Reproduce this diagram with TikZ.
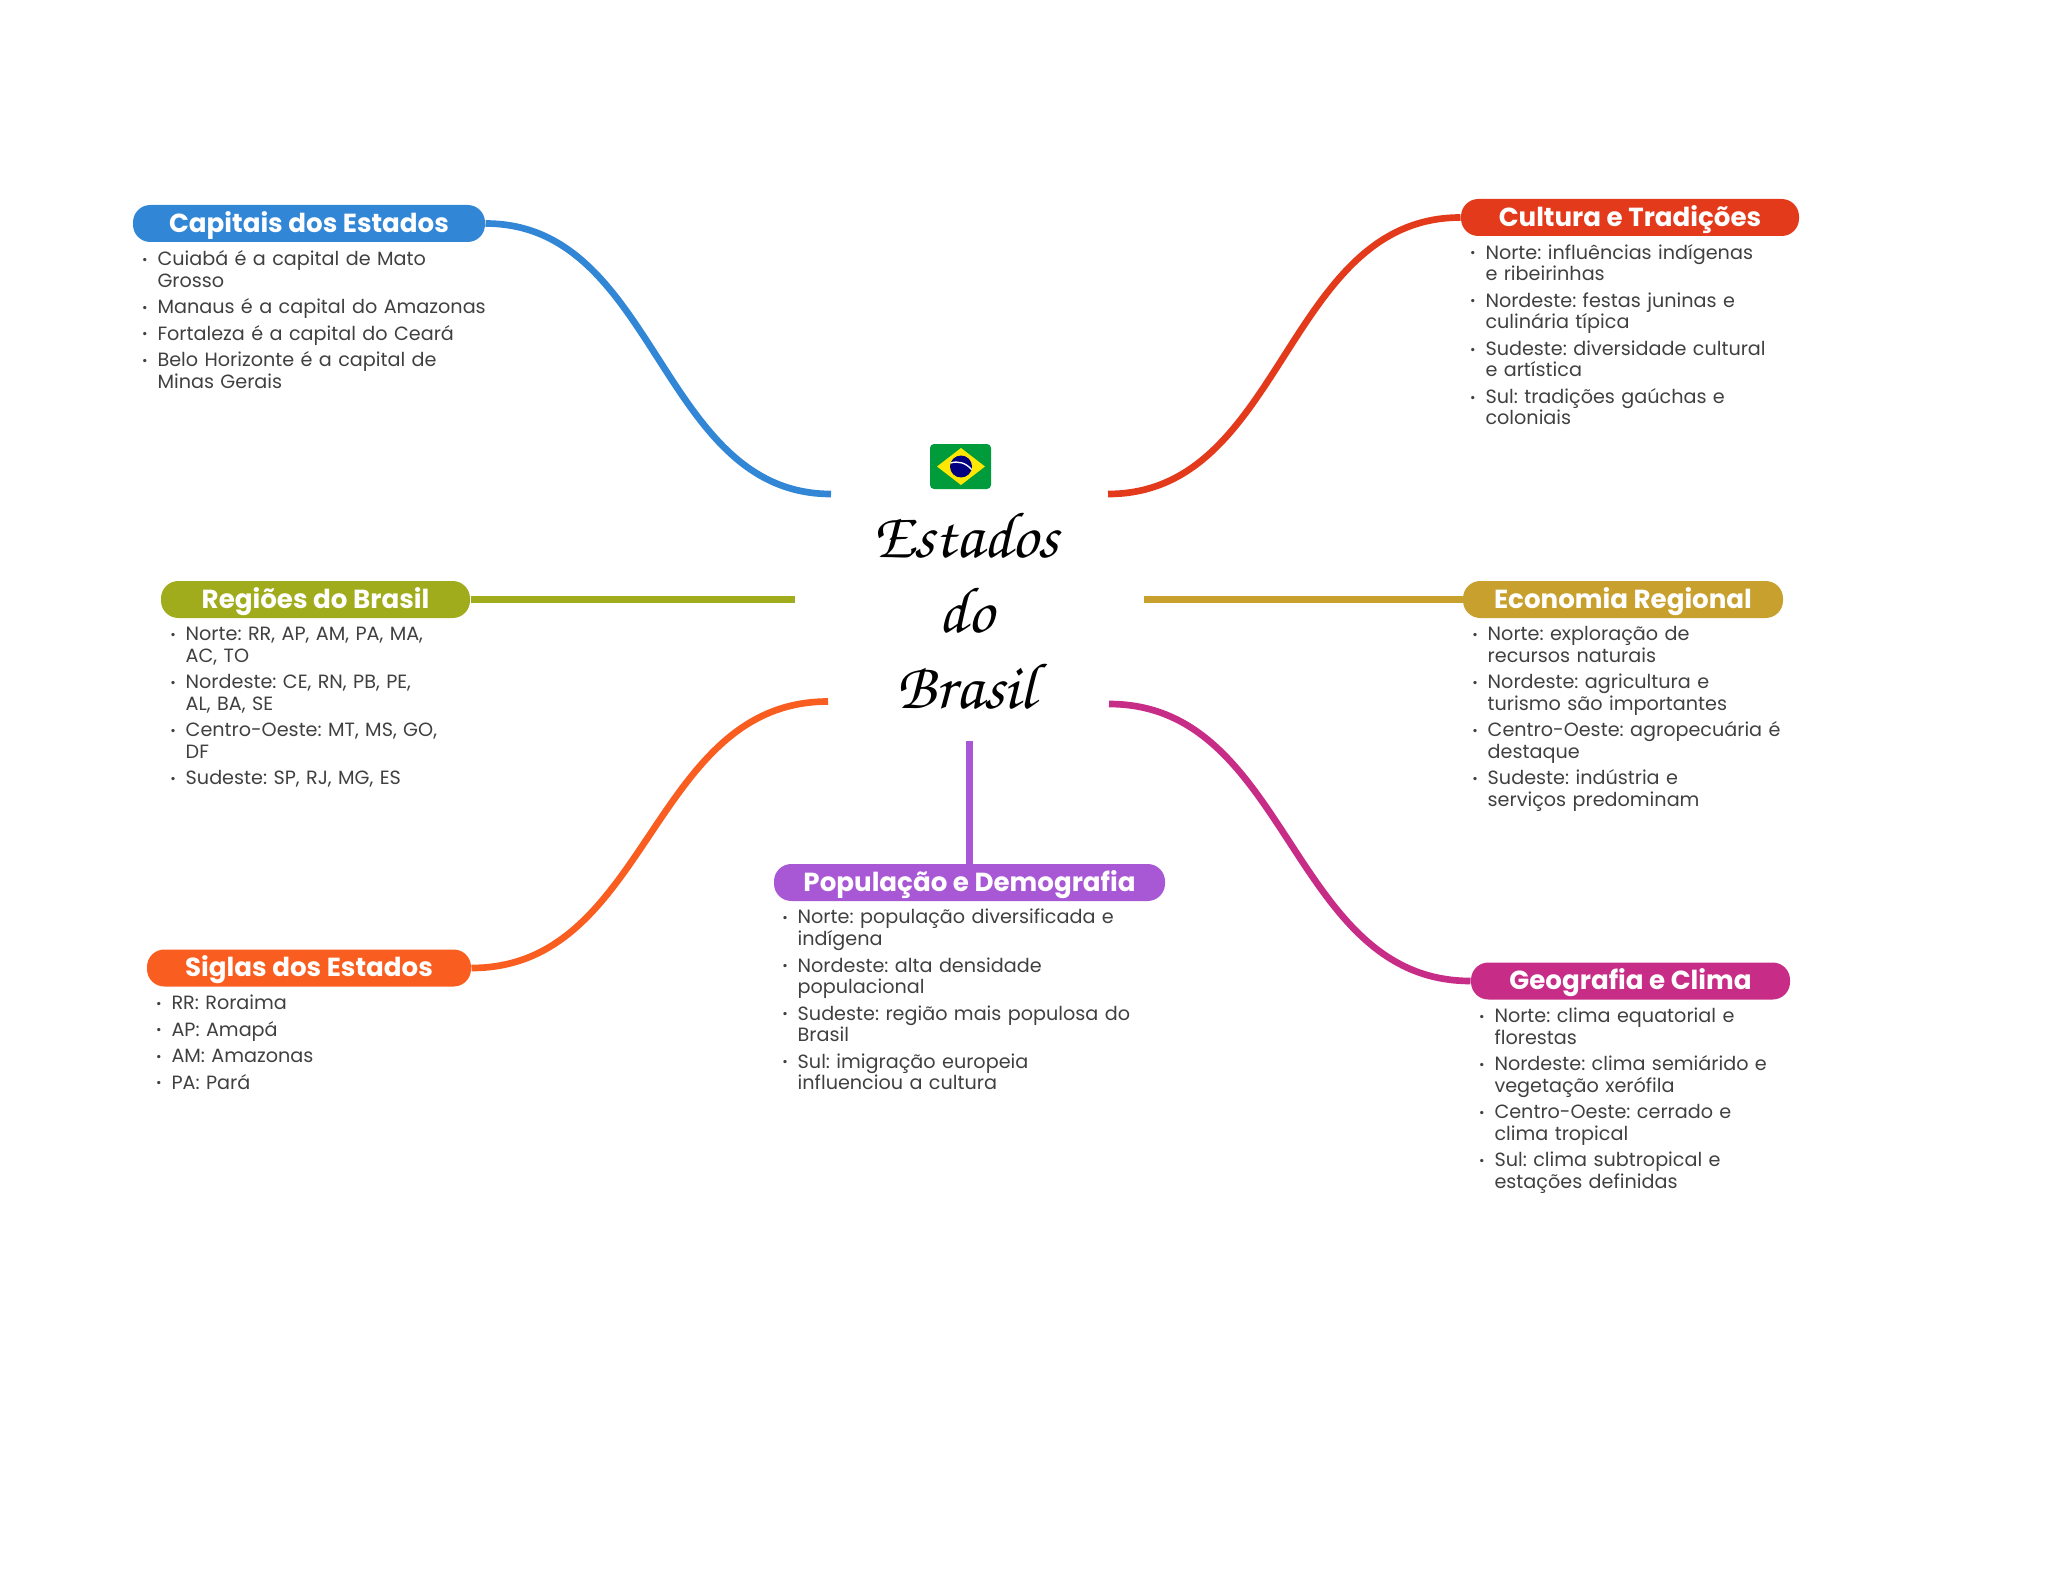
\documentclass[tikz,border=0pt]{standalone}
\usepackage[T1,TU]{fontenc}
\usepackage{fontspec}
\setmainfont{Poppins}
\frenchspacing
\definecolor{capblue}{RGB}{50,134,214}
\definecolor{culred}{RGB}{228,58,28}
\definecolor{regolive}{RGB}{160,172,28}
\definecolor{ecogold}{RGB}{200,160,46}
\definecolor{sigorange}{RGB}{249,94,32}
\definecolor{popviolet}{RGB}{168,88,212}
\definecolor{geomagenta}{RGB}{199,44,134}
\definecolor{bodygrey}{RGB}{64,64,64}
\newcommand{\bulitem}[1]{\par\setlength{\parskip}{3.75pt}\noindent\llap{\raisebox{1pt}{\fontsize{10}{10}\selectfont •}\hspace{7.4pt}}#1}
\tikzset{every picture/.style={line width=0.75pt},
  pill/.style={rounded corners=13pt,inner sep=0pt,minimum height=27.75pt,text height=17pt,text depth=3.8pt,text=white,font=\fontsize{19.6}{20}\bfseries\selectfont},
  itemlist/.style={anchor=north west,inner sep=0pt,text width=#1,align=left,text=bodygrey,font=\fontsize{14.4}{16.15}\selectfont},
  branch/.style={line width=5pt}}

\begin{document}
\begin{tikzpicture}[x=0.75pt,y=0.75pt,yscale=-1,xscale=1]
\useasboundingbox (0,0) rectangle (2048,1569);

% Title Node
\node (title) [align=center,inner sep=0pt,font=\usefont{T1}{pzc}{m}{it}\fontsize{49}{56.6}\selectfont] at (966,610) {Estados\\do\\Brasil};

%Shape: Flag
\node (flag) [fill={rgb,255:red,0;green,155;blue,58},rounded corners=3pt,minimum width=45.75pt,minimum height=33.75pt,inner sep=0pt] at (960.5,466.5) {};
\fill [yellow!90!orange] (937,466.5) -- (961,448) -- (985,466.5) -- (961,485) -- cycle ;
\fill [blue!50!black] (961,466.5) circle [radius=11] ;
\draw [white,line width=1pt] (950.5,463) .. controls (958,460.5) and (966,463) .. (971.5,469.5) ;

% Branch Nodes
\node (capitais) [pill,fill=capblue,minimum width=264pt] at (309,223.5) {Capitais dos Estados};
\node (cultura) [pill,fill=culred,minimum width=253.5pt] at (1630,217.5) {Cultura e Tradições};
\node (regioes) [pill,fill=regolive,minimum width=231.75pt] at (315.5,599.5) {Regiões do Brasil};
\node (economia) [pill,fill=ecogold,minimum width=240pt] at (1623,599.5) {Economia Regional};
\node (siglas) [pill,fill=sigorange,minimum width=243pt] at (309,968) {Siglas dos Estados};
\node (populacao) [pill,fill=popviolet,minimum width=293.25pt] at (969.5,882.5) {População e Demografia};
\node (geografia) [pill,fill=geomagenta,minimum width=239.25pt] at (1630.5,981) {Geografia e Clima};

% Free ends round the title
\coordinate (endcapitais) at (831,494);
\coordinate (endcultura) at (1108,494);
\coordinate (endregioes) at (795,599.5);
\coordinate (endeconomia) at (1144,599.5);
\coordinate (endsiglas) at (828,701.5);
\coordinate (endgeografia) at (1109,704);
\coordinate (endpopulacao) at (969.5,741);

%Curved Lines
\draw [branch,capblue] (capitais.east) .. controls +(172,0) and +(-172,0) .. (endcapitais) ;
\draw [branch,culred] (cultura.west) .. controls +(-176,0) and +(176,0) .. (endcultura) ;
\draw [branch,sigorange] (siglas.east) .. controls +(178,0) and +(-178,0) .. (endsiglas) ;
\draw [branch,geomagenta] (geografia.west) .. controls +(-181,0) and +(181,0) .. (endgeografia) ;
%Straight Lines
\draw [branch,regolive] (regioes.east) -- (endregioes) ;
\draw [branch,ecogold] (economia.west) -- (endeconomia) ;
\draw [branch,popviolet] (populacao.north) -- (endpopulacao) ;

% Text Node
\node (listcapitais) [itemlist=270pt] at (157,238.5) {\bulitem{Cuiabá é a capital de Mato\\Grosso}\bulitem{Manaus é a capital do Amazonas}\bulitem{Fortaleza é a capital do Ceará}\bulitem{Belo Horizonte é a capital de\\Minas Gerais}};
% Text Node
\node (listcultura) [itemlist=270pt] at (1485,232.2) {\bulitem{Norte: influências indígenas\\e ribeirinhas}\bulitem{Nordeste: festas juninas e\\culinária típica}\bulitem{Sudeste: diversidade cultural\\e artística}\bulitem{Sul: tradições gaúchas e\\coloniais}};
% Text Node
\node (listregioes) [itemlist=270pt] at (185.2,613.7) {\bulitem{Norte: RR, AP, AM, PA, MA,\\AC, TO}\bulitem{Nordeste: CE, RN, PB, PE,\\AL, BA, SE}\bulitem{Centro-Oeste: MT, MS, GO,\\DF}\bulitem{Sudeste: SP, RJ, MG, ES}};
% Text Node
\node (listeconomia) [itemlist=270pt] at (1487.2,613.7) {\bulitem{Norte: exploração de\\recursos naturais}\bulitem{Nordeste: agricultura e\\turismo são importantes}\bulitem{Centro-Oeste: agropecuária é\\destaque}\bulitem{Sudeste: indústria e\\serviços predominam}};
% Text Node
\node (listsiglas) [itemlist=270pt] at (171,982.5) {\bulitem{RR: Roraima}\bulitem{AP: Amapá}\bulitem{AM: Amazonas}\bulitem{PA: Pará}};
% Text Node
\node (listpopulacao) [itemlist=270pt] at (797.2,896.9) {\bulitem{Norte: população diversificada e\\indígena}\bulitem{Nordeste: alta densidade\\populacional}\bulitem{Sudeste: região mais populosa do\\Brasil}\bulitem{Sul: imigração europeia\\influenciou a cultura}};
% Text Node
\node (listgeografia) [itemlist=270pt] at (1494,995.7) {\bulitem{Norte: clima equatorial e\\florestas}\bulitem{Nordeste: clima semiárido e\\vegetação xerófila}\bulitem{Centro-Oeste: cerrado e\\clima tropical}\bulitem{Sul: clima subtropical e\\estações definidas}};

\end{tikzpicture}
\end{document}
